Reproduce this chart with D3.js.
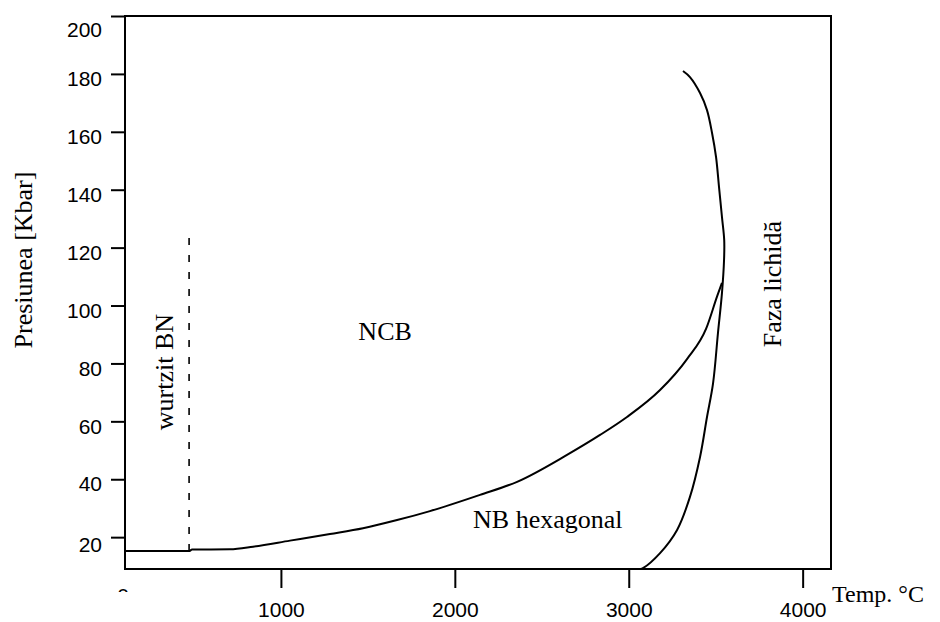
<!DOCTYPE html>
<html>
<head>
<meta charset="utf-8">
<script src="https://cdn.jsdelivr.net/npm/d3@7.9.0/dist/d3.min.js"></script>
<style>
  html, body { margin: 0; padding: 0; background: #fff; }
  svg { display: block; }
</style>
</head>
<body>
<div id="viz"></div>
<script>
// Data (temperature in °C, pressure in kbar)
const pressureTicks = [20, 40, 60, 80, 100, 120, 140, 160, 180, 200];
const tempTicks = [1000, 2000, 3000, 4000];

// boundary between cubic (NCB) and hexagonal BN
const hexTemp = [105, 472, 489, 707, 840, 1052, 1282, 1472, 1668, 1857, 2145, 2358, 2645, 2835, 2990, 3180, 3335, 3445, 3510, 3536];
const hexPres = [15.2, 15.2, 15.7, 15.8, 16.7, 18.8, 21.1, 23.1, 25.9, 29.0, 34.6, 39.1, 48.4, 55.3, 61.5, 70.8, 81.5, 92.0, 103.5, 107.8];

// melting curve (liquid phase boundary)
const meltTemp = [3068, 3082, 3180, 3278, 3352, 3410, 3450, 3485, 3513, 3536, 3548, 3549, 3536, 3519, 3502, 3479, 3450, 3410, 3352, 3312];
const meltPres = [9.0, 9.3, 14.5, 22.5, 33.9, 47.7, 61.5, 73.2, 90.5, 104.3, 115.7, 122.6, 130.6, 141.0, 151.3, 159.6, 167.5, 173.4, 178.9, 181.0];

// wurtzite BN limit (dashed)
const wurtzTemp = [472, 472];
const wurtzPres = [15.2, 124.4];

// region labels
const regionNames = ["NCB", "NB hexagonal", "wurtzit BN", "Faza lichidă"];
const regionTemp = [1599, 2105, 380, 3876];
const regionPres = [88.1, 23.2, 77.0, 107.4];
const regionRotate = [0, 0, -90, -90];

const width = 940, height = 622;

const svg = d3.select("#viz")
  .append("svg")
  .attr("width", width)
  .attr("height", height);

const x = d3.scaleLinear().domain([103.5, 4163]).range([125, 831]);
const y = d3.scaleLinear().domain([9, 200]).range([569, 16]);

const serif = "'Liberation Serif', 'Times New Roman', serif";
const sans = "'Liberation Sans', Arial, sans-serif";

// Left axis
const yAxis = svg.append("g")
  .attr("transform", "translate(125,0)")
  .call(d3.axisLeft(y).tickValues(pressureTicks).tickSize(14).tickPadding(9));
yAxis.select(".domain").remove();
yAxis.selectAll("line").attr("stroke", "#000").attr("stroke-width", 2);
yAxis.selectAll("text")
  .attr("fill", "#000")
  .style("font-family", sans)
  .style("font-size", "21px")
  .attr("transform", d => `translate(0,${d === 200 ? 14 : d === 20 ? 8 : 5})`);

// Bottom axis
const xAxis = svg.append("g")
  .attr("transform", "translate(0,569)")
  .call(d3.axisBottom(x).tickValues(tempTicks).tickSize(19).tickPadding(14).tickFormat(d3.format("d")));
xAxis.select(".domain").remove();
xAxis.selectAll("line").attr("stroke", "#000").attr("stroke-width", 2);
xAxis.selectAll("text")
  .attr("fill", "#000")
  .style("font-family", sans)
  .style("font-size", "21px");

// clipped "0" at the lower left corner
svg.append("clipPath").attr("id", "clipZero")
  .append("rect").attr("x", 100).attr("y", 580).attr("width", 40).attr("height", 12);
svg.append("text")
  .attr("x", 123).attr("y", 603)
  .attr("text-anchor", "middle")
  .attr("clip-path", "url(#clipZero)")
  .style("font-family", sans)
  .style("font-size", "21px")
  .text("0");

// Frame
svg.append("rect")
  .attr("x", 125).attr("y", 16)
  .attr("width", 831 - 125).attr("height", 569 - 16)
  .attr("fill", "none")
  .attr("stroke", "#000")
  .attr("stroke-width", 2);

// Curves
const hexData = hexTemp.map((t, i) => ({ t, p: hexPres[i] }));
const meltData = meltTemp.map((t, i) => ({ t, p: meltPres[i] }));
const wurtzData = wurtzTemp.map((t, i) => ({ t, p: wurtzPres[i] }));

svg.append("path")
  .datum(hexData)
  .attr("fill", "none")
  .attr("stroke", "#000")
  .attr("stroke-width", 2)
  .attr("d", d3.line().x(d => x(d.t)).y(d => y(d.p)).curve(d3.curveMonotoneX));

svg.append("path")
  .datum(meltData)
  .attr("fill", "none")
  .attr("stroke", "#000")
  .attr("stroke-width", 2)
  .attr("d", d3.line().x(d => x(d.t)).y(d => y(d.p)).curve(d3.curveCatmullRom));

svg.append("path")
  .datum(wurtzData)
  .attr("fill", "none")
  .attr("stroke", "#000")
  .attr("stroke-width", 1.6)
  .attr("stroke-dasharray", "7,10")
  .attr("d", d3.line().x(d => x(d.t)).y(d => y(d.p)));

// Region labels
regionNames.forEach((name, i) => {
  const px = x(regionTemp[i]), py = y(regionPres[i]);
  const rot = regionRotate[i];
  svg.append("text")
    .attr("transform", `translate(${px},${py}) rotate(${rot})`)
    .attr("text-anchor", rot === 0 && i === 1 ? "start" : "middle")
    .style("font-family", serif)
    .style("font-size", "26px")
    .text(name);
});

// Axis titles
svg.append("text")
  .attr("transform", "translate(32,260) rotate(-90)")
  .attr("text-anchor", "middle")
  .style("font-family", serif)
  .style("font-size", "26px")
  .text("Presiunea [Kbar]");

svg.append("text")
  .attr("x", 832).attr("y", 602)
  .style("font-family", serif)
  .style("font-size", "24px")
  .text("Temp. °C");
</script>
</body>
</html>
